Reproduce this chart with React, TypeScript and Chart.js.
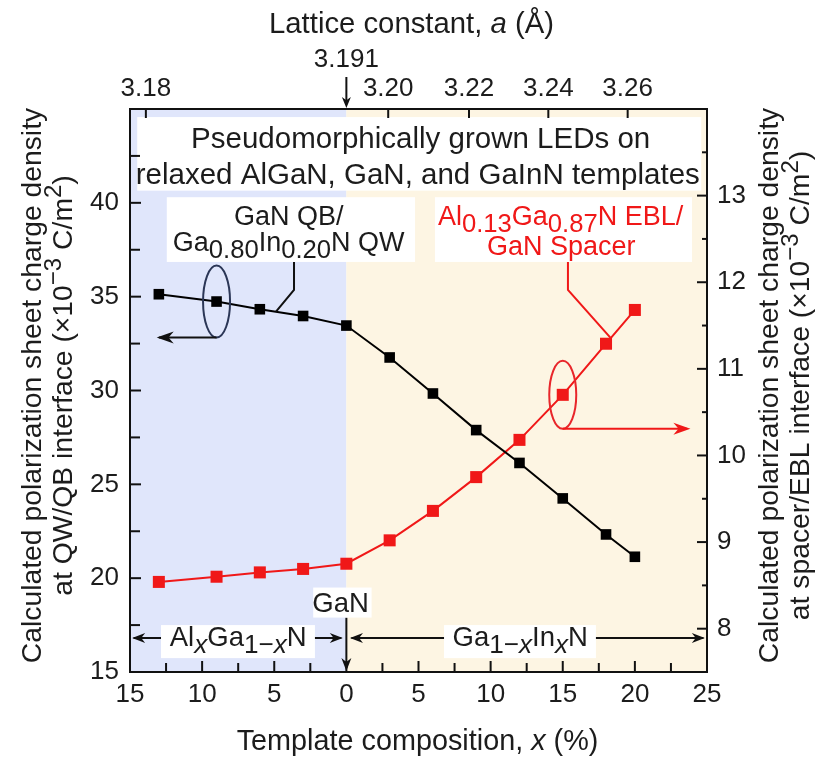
import React, { useEffect, useRef } from 'react';
import { Chart, registerables } from 'chart.js';

Chart.register(...registerables);

// ---------------- data ----------------
const compositionPct = [-13, -9, -6, -3, 0, 3, 6, 9, 12, 15, 18, 20];
const qwQbSheetCharge = [35.13, 34.74, 34.33, 33.97, 33.46, 31.76, 29.84, 27.89, 26.14, 24.25, 22.33, 21.14];
const spacerEblSheetCharge = [8.54, 8.6, 8.65, 8.69, 8.75, 9.02, 9.36, 9.75, 10.18, 10.7, 11.29, 11.68];
const latticeTickComposition = [-13.9, 0, 2.9, 8.5, 14.0, 19.5];
const latticeTickLabels = ['3.18', '3.191', '3.20', '3.22', '3.24', '3.26'];

// ---------------- styles ----------------
const FONT = '"Liberation Sans", Arial, Helvetica, sans-serif';
const TEXT = '#1c1c1c';
const RED = '#f01818';
const BLUE_BG = '#e0e6fb';
const BEIGE_BG = '#fdf5e3';

type Seg = { t: string; it?: boolean; sub?: boolean; sup?: boolean };

function segFont(size: number, s: Seg) {
  const fs = s.sub ? size * 0.95 : s.sup ? size * 0.85 : size;
  return `${s.it ? 'italic ' : ''}${fs}px ${FONT}`;
}

function drawRich(ctx: CanvasRenderingContext2D, segs: Seg[], x: number, y: number, size: number, color: string, rot = 0) {
  ctx.save();
  ctx.translate(x, y);
  if (rot) ctx.rotate(rot);
  let total = 0;
  const widths = segs.map((s) => {
    ctx.font = segFont(size, s);
    const w = ctx.measureText(s.t).width;
    total += w;
    return w;
  });
  let cx = -total / 2;
  ctx.fillStyle = color;
  ctx.textBaseline = 'alphabetic';
  ctx.textAlign = 'left';
  const base = size * 0.36;
  segs.forEach((s, i) => {
    ctx.font = segFont(size, s);
    const dy = s.sub ? size * 0.27 : s.sup ? -size * 0.4 : 0;
    ctx.fillText(s.t, cx, base + dy);
    cx += widths[i];
  });
  ctx.restore();
}

function arrowHead(ctx: CanvasRenderingContext2D, x: number, y: number, angle: number, color: string, len = 15, half = 5.5) {
  ctx.save();
  ctx.translate(x, y);
  ctx.rotate(angle);
  ctx.beginPath();
  ctx.moveTo(0, 0);
  ctx.lineTo(-len, -half);
  ctx.lineTo(-len * 0.7, 0);
  ctx.lineTo(-len, half);
  ctx.closePath();
  ctx.fillStyle = color;
  ctx.fill();
  ctx.restore();
}

function line(ctx: CanvasRenderingContext2D, pts: number[][], color: string, w = 2) {
  ctx.save();
  ctx.beginPath();
  ctx.moveTo(pts[0][0], pts[0][1]);
  for (let i = 1; i < pts.length; i++) ctx.lineTo(pts[i][0], pts[i][1]);
  ctx.strokeStyle = color;
  ctx.lineWidth = w;
  ctx.stroke();
  ctx.restore();
}

const titleLine1: Seg[] = [{ t: 'Pseudomorphically grown LEDs on' }];
const titleLine2: Seg[] = [{ t: 'relaxed AlGaN, GaN, and GaInN templates' }];
const qwLabel1: Seg[] = [{ t: 'GaN QB/' }];
const qwLabel2: Seg[] = [{ t: 'Ga' }, { t: '0.80', sub: true }, { t: 'In' }, { t: '0.20', sub: true }, { t: 'N QW' }];
const eblLabel1: Seg[] = [{ t: 'Al' }, { t: '0.13', sub: true }, { t: 'Ga' }, { t: '0.87', sub: true }, { t: 'N EBL/' }];
const eblLabel2: Seg[] = [{ t: 'GaN Spacer' }];
const ganLabel: Seg[] = [{ t: 'GaN' }];
const alganLabel: Seg[] = [{ t: 'Al' }, { t: 'x', sub: true, it: true }, { t: 'Ga' }, { t: '1\u2212', sub: true }, { t: 'x', sub: true, it: true }, { t: 'N' }];
const ganinLabel: Seg[] = [{ t: 'Ga' }, { t: '1\u2212', sub: true }, { t: 'x', sub: true, it: true }, { t: 'In' }, { t: 'x', sub: true, it: true }, { t: 'N' }];
const topTitle: Seg[] = [{ t: 'Lattice constant, ' }, { t: 'a', it: true }, { t: ' (\u00c5)' }];
const bottomTitle: Seg[] = [{ t: 'Template composition, ' }, { t: 'x', it: true }, { t: ' (%)' }];
const leftTitle1: Seg[] = [{ t: 'Calculated polarization sheet charge density' }];
const leftTitle2: Seg[] = [{ t: 'at QW/QB interface (\u00d710' }, { t: '\u22123', sup: true }, { t: ' C/m' }, { t: '2', sup: true }, { t: ')' }];
const rightTitle1: Seg[] = [{ t: 'Calculated polarization sheet charge density' }];
const rightTitle2: Seg[] = [{ t: 'at spacer/EBL interface (\u00d710' }, { t: '\u22123', sup: true }, { t: ' C/m' }, { t: '2', sup: true }, { t: ')' }];

const decorPlugin = {
  id: 'decor',
  beforeDatasetsDraw(chart: any) {
    const { ctx, chartArea: a, scales } = chart;
    const X = (v: number) => scales.x.getPixelForValue(v);
    const Y = (v: number) => scales.y.getPixelForValue(v);
    const x0 = X(0);
    ctx.save();
    ctx.fillStyle = BLUE_BG;
    ctx.fillRect(a.left, a.top, x0 - a.left, a.bottom - a.top);
    ctx.fillStyle = BEIGE_BG;
    ctx.fillRect(x0, a.top, a.right - x0, a.bottom - a.top);

    const box = (x1: number, x2: number, y1: number, y2: number) => {
      ctx.fillStyle = '#ffffff';
      ctx.fillRect(X(x1), Y(y2), X(x2) - X(x1), Y(y1) - Y(y2));
    };
    // title box
    box(-14.5, 24.6, 40.65, 44.57);
    drawRich(ctx, titleLine1, X(5.15), Y(43.5), 29.5, TEXT);
    drawRich(ctx, titleLine2, X(4.95), Y(41.55), 29.5, TEXT);
    // QW/QB label
    box(-12.45, 4.76, 36.85, 40.3);
    drawRich(ctx, qwLabel1, X(-4.0), Y(39.35), 27, TEXT);
    drawRich(ctx, qwLabel2, X(-4.0), Y(37.95), 27, TEXT);
    // EBL label
    box(6.14, 23.96, 36.85, 40.3);
    drawRich(ctx, eblLabel1, X(14.85), Y(39.35), 27, RED);
    drawRich(ctx, eblLabel2, X(14.9), Y(37.75), 27, RED);

    // bottom composition arrows
    const ya = Y(16.81);
    line(ctx, [[X(-14.75), ya], [X(-0.35), ya]], '#111');
    arrowHead(ctx, X(-14.85), ya, Math.PI, '#111', 13, 5);
    arrowHead(ctx, X(-0.25), ya, 0, '#111', 13, 5);
    line(ctx, [[X(0.35), ya], [X(24.75), ya]], '#111');
    arrowHead(ctx, X(0.25), ya, Math.PI, '#111', 13, 5);
    arrowHead(ctx, X(24.85), ya, 0, '#111', 13, 5);
    box(-12.85, -2.18, 15.74, 17.5);
    drawRich(ctx, alganLabel, X(-7.5), ya - 2, 27.5, TEXT);
    box(6.77, 17.3, 15.74, 17.5);
    drawRich(ctx, ganinLabel, X(12.05), ya - 2, 27.5, TEXT);
    // GaN marker
    line(ctx, [[x0, Y(17.9)], [x0, a.bottom - 4]], '#111');
    arrowHead(ctx, x0, a.bottom - 1, Math.PI / 2, '#111', 13, 5);
    box(-2.3, 1.75, 17.9, 19.5);
    drawRich(ctx, ganLabel, X(-0.4), Y(18.7), 27.5, TEXT);
    ctx.restore();
  },
  afterDatasetsDraw(chart: any) {
    const { ctx, scales } = chart;
    const X = (v: number) => scales.x.getPixelForValue(v);
    const Y = (v: number) => scales.y.getPixelForValue(v);
    const Y2 = (v: number) => scales.y2.getPixelForValue(v);
    ctx.save();
    // leader lines
    line(ctx, [[X(-3.63), Y(36.85)], [X(-3.63), Y(35.36)], [X(-4.88), Y(34.2)]], '#111');
    line(ctx, [[X(15.36), Y(36.85)], [X(15.36), Y(35.36)], [X(18.3), Y2(11.36)]], RED);
    // black ellipse + arrow to left axis
    const bx = X(compositionPct[1]);
    const by = Y(qwQbSheetCharge[1]);
    ctx.beginPath();
    ctx.ellipse(bx, by, 13.5, 36, 0, 0, Math.PI * 2);
    ctx.strokeStyle = '#2b3656';
    ctx.lineWidth = 2;
    ctx.stroke();
    line(ctx, [[bx, by + 36], [X(-13.0), by + 36]], '#111');
    arrowHead(ctx, X(-13.15), by + 36, Math.PI, '#111', 17, 6);
    // red ellipse + arrow to right axis
    const rx = X(compositionPct[9]);
    const ry = Y2(spacerEblSheetCharge[9]);
    ctx.beginPath();
    ctx.ellipse(rx, ry, 13.5, 34, 0, 0, Math.PI * 2);
    ctx.strokeStyle = '#e8262b';
    ctx.lineWidth = 2;
    ctx.stroke();
    line(ctx, [[rx, ry + 34], [X(23.6), ry + 34]], RED);
    arrowHead(ctx, X(23.85), ry + 34, 0, RED, 17, 6);
    ctx.restore();
  },
  afterDraw(chart: any) {
    const { ctx, chartArea: a, scales } = chart;
    ctx.save();
    ctx.strokeStyle = '#111';
    ctx.lineWidth = 2;
    // ticks (inward)
    const tick = (x1: number, y1: number, x2: number, y2: number) => {
      ctx.beginPath();
      ctx.moveTo(x1, y1);
      ctx.lineTo(x2, y2);
      ctx.stroke();
    };
    scales.x.ticks.forEach((t: any) => {
      if (t.value <= -15 || t.value >= 25) return;
      const p = scales.x.getPixelForValue(t.value);
      const len = Math.abs(t.value % 5) < 1e-6 ? 11 : 9;
      tick(p, a.bottom, p, a.bottom - len);
    });
    scales.x2.ticks.forEach((t: any) => {
      if (t.value === 0) return;
      const p = scales.x2.getPixelForValue(t.value);
      tick(p, a.top, p, a.top + 9);
    });
    scales.y.ticks.forEach((t: any) => {
      if (t.value <= 15 || t.value >= 45) return;
      const p = scales.y.getPixelForValue(t.value);
      const len = Math.abs(t.value % 5) < 1e-6 ? 11 : 10;
      tick(a.left, p, a.left + len, p);
    });
    scales.y2.ticks.forEach((t: any) => {
      if (t.value <= 7.5 || t.value >= 14) return;
      const p = scales.y2.getPixelForValue(t.value);
      const len = Math.abs(t.value % 1) < 1e-6 ? 10 : 5;
      tick(a.right, p, a.right - len, p);
    });
    // plot frame
    ctx.strokeRect(a.left, a.top, a.right - a.left, a.bottom - a.top);
    // lattice 3.191 arrow
    const x0 = scales.x2.getPixelForValue(0);
    line(ctx, [[x0, a.top - 32], [x0, a.top - 6]], '#111');
    arrowHead(ctx, x0, a.top - 1, Math.PI / 2, '#111', 11, 4.5);
    // axis titles
    const cx = (a.left + a.right) / 2;
    const cy = (a.top + a.bottom) / 2 - 5;
    drawRich(ctx, topTitle, cx - 7, a.top - 87, 29.3, TEXT);
    drawRich(ctx, bottomTitle, cx - 1, a.bottom + 68, 28.8, TEXT);
    drawRich(ctx, leftTitle1, a.left - 99, cy, 28.3, TEXT, -Math.PI / 2);
    drawRich(ctx, leftTitle2, a.left - 68, cy, 28.3, TEXT, -Math.PI / 2);
    drawRich(ctx, rightTitle1, a.right + 61, cy, 28.3, TEXT, -Math.PI / 2);
    drawRich(ctx, rightTitle2, a.right + 92, cy, 28.3, TEXT, -Math.PI / 2);
    ctx.restore();
  },
};

export default function App() {
  const ref = useRef<HTMLCanvasElement | null>(null);
  useEffect(() => {
    if (!ref.current) return;
    const tickFont = { family: FONT, size: 26 };
    const chart = new Chart(ref.current, {
      type: 'line',
      data: {
        datasets: [
          {
            label: 'QW/QB interface',
            data: compositionPct.map((x, i) => ({ x, y: qwQbSheetCharge[i] })),
            xAxisID: 'x',
            yAxisID: 'y',
            borderColor: '#000',
            backgroundColor: '#000',
            borderWidth: 2,
            pointStyle: 'rect',
            pointRadius: 7.5,
            pointBorderWidth: 0,
            tension: 0,
          },
          {
            label: 'spacer/EBL interface',
            data: compositionPct.map((x, i) => ({ x, y: spacerEblSheetCharge[i] })),
            xAxisID: 'x',
            yAxisID: 'y2',
            borderColor: RED,
            backgroundColor: RED,
            borderWidth: 2,
            pointStyle: 'rect',
            pointRadius: 8.5,
            pointBorderWidth: 0,
            tension: 0,
          },
        ],
      },
      plugins: [decorPlugin],
      options: {
        animation: false,
        responsive: false,
        devicePixelRatio: 1,
        layout: { padding: 0 },
        plugins: { legend: { display: false }, tooltip: { enabled: false } },
        scales: {
          x: {
            type: 'linear',
            position: 'bottom',
            min: -15,
            max: 25,
            grid: { display: false, drawTicks: false },
            border: { display: false },
            ticks: {
              stepSize: 2.5,
              autoSkip: false,
              maxRotation: 0,
              padding: 7,
              font: tickFont,
              color: TEXT,
              callback: (v: any) => (Math.abs(v % 5) < 1e-6 ? String(Math.abs(v)) : ''),
            },
            afterFit: (s: any) => {
              s.height = 85;
            },
          },
          x2: {
            type: 'linear',
            position: 'top',
            min: -15,
            max: 25,
            grid: { display: false, drawTicks: false },
            border: { display: false },
            afterBuildTicks: (s: any) => {
              s.ticks = latticeTickComposition.map((v) => ({ value: v }));
            },
            ticks: {
              autoSkip: false,
              maxRotation: 0,
              padding: 6,
              font: { family: FONT, size: 26, lineHeight: 1.1 },
              color: TEXT,
              callback: (v: any, i: number) => (v === 0 ? [latticeTickLabels[i], ''] : latticeTickLabels[i]),
            },
            afterFit: (s: any) => {
              s.height = 109;
            },
          },
          y: {
            type: 'linear',
            position: 'left',
            min: 15,
            max: 45,
            grid: { display: false, drawTicks: false },
            border: { display: false },
            ticks: {
              stepSize: 2.5,
              autoSkip: false,
              padding: 11,
              font: tickFont,
              color: TEXT,
              callback: (v: any) => (Math.abs(v % 5) < 1e-6 && v < 45 ? String(v) : ''),
            },
            afterFit: (s: any) => {
              s.width = 130;
            },
          },
          y2: {
            type: 'linear',
            position: 'right',
            min: 7.5,
            max: 14,
            grid: { display: false, drawTicks: false },
            border: { display: false },
            ticks: {
              stepSize: 0.5,
              autoSkip: false,
              padding: 10,
              font: tickFont,
              color: TEXT,
              callback: (v: any) => (Math.abs(v % 1) < 1e-6 && v < 14 ? String(v) : ''),
            },
            afterFit: (s: any) => {
              s.width = 112;
            },
          },
        },
      },
    } as any);
    return () => chart.destroy();
  }, []);
  return (
    <div style={{ position: 'absolute', left: 0, top: 0, width: 819, height: 757, background: '#ffffff' }}>
      <canvas ref={ref} width={819} height={757} style={{ width: 819, height: 757, display: 'block' }} />
    </div>
  );
}
